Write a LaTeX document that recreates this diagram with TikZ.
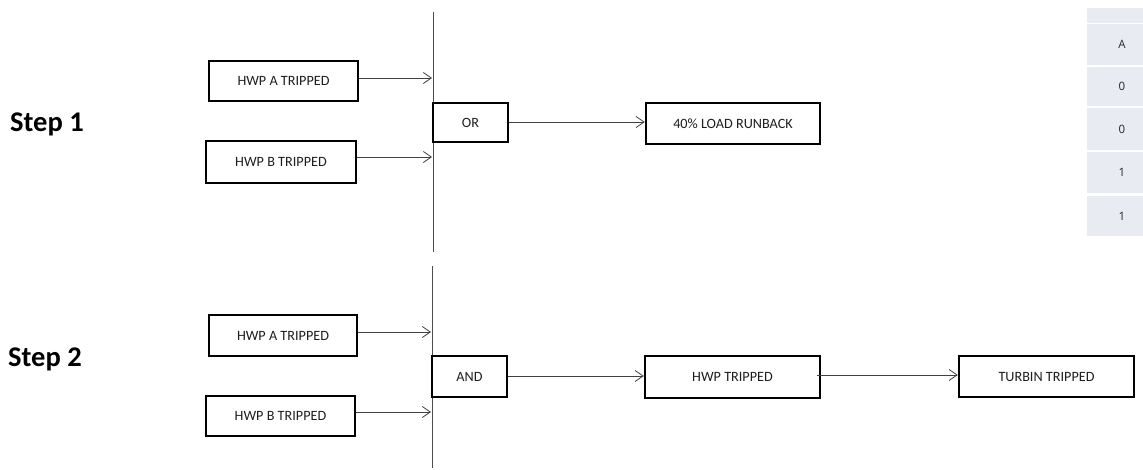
\documentclass[tikz,border=0pt]{standalone}
\usepackage{fontspec}
\setmainfont{Carlito}
\newfontfamily\tabfont{Open Sans}
\usetikzlibrary{arrows.meta}
\definecolor{cellbg}{RGB}{232,235,242}
\definecolor{txt}{RGB}{30,30,30}
\tikzset{
  flowbox/.style={draw=black, line width=2.5pt, fill=white, inner sep=0pt,
    font=\fontsize{14.2}{16}\selectfont, text=txt},
  arr/.style={draw=black!75, line width=0.8pt, -{Straight Barb[length=8pt,width=11pt,line width=0.8pt]}},
  busline/.style={draw=black!70, line width=1pt},
  steplabel/.style={anchor=base west, inner sep=0pt, font=\bfseries\fontsize{28.5}{30}\selectfont},
  cell/.style={fill=cellbg, draw=none, inner sep=0pt, minimum width=56pt, anchor=north west},
  celltext/.style={font=\tabfont\fontsize{11.5}{13}\selectfont, text=black!85}
}
\begin{document}
\begin{tikzpicture}[x=1pt,y=-1pt]
\useasboundingbox (0,0) rectangle (1143,470);

% Step labels
\node[steplabel] (s1) at (10,132) {Step 1};
\node[steplabel] (s2) at (8,366) {Step 2};

% ---- Step 1 ----
\coordinate (l1top) at (433,12);
\coordinate (l1bot) at (433,252);
\draw[busline] (l1top) -- (l1bot);
\node[flowbox, minimum width=149pt, minimum height=40pt] (a1) at (283.5,81) {HWP A TRIPPED};
\node[flowbox, minimum width=150pt, minimum height=42pt] (b1) at (281,162) {HWP B TRIPPED};
\node[flowbox, minimum width=75pt, minimum height=39pt] (or) at (470.5,122.5) {OR};
\node[flowbox, minimum width=174pt, minimum height=41pt] (lr) at (733,123.5) {40\% LOAD RUNBACK};
\coordinate (a1in) at (432,78);
\coordinate (b1in) at (432,157);
\draw[arr] ([yshift=3pt]a1.east) -- (a1in);
\draw[arr] ([yshift=5pt]b1.east) -- (b1in);
\draw[arr] ([yshift=0.5pt]or.east) -- ([yshift=1.5pt]lr.west);

% ---- Step 2 ----
\coordinate (l2top) at (432,266);
\coordinate (l2bot) at (432,468);
\draw[busline] (l2top) -- (l2bot);
\node[flowbox, minimum width=148pt, minimum height=41pt] (a2) at (283,335.5) {HWP A TRIPPED};
\node[flowbox, minimum width=149pt, minimum height=40pt] (b2) at (280.5,416) {HWP B TRIPPED};
\node[flowbox, minimum width=75pt, minimum height=41pt] (and) at (469.5,376.5) {AND};
\node[flowbox, minimum width=175pt, minimum height=42pt] (ht) at (732.5,377) {HWP TRIPPED};
\node[flowbox, minimum width=175pt, minimum height=41pt] (tt) at (1046.5,376.5) {TURBIN TRIPPED};
\coordinate (a2in) at (431,332);
\coordinate (b2in) at (431,412);
\draw[arr] ([yshift=3.5pt]a2.east) -- (a2in);
\draw[arr] ([yshift=4pt]b2.east) -- (b2in);
\draw[arr] ([yshift=0.5pt]and.east) -- ([yshift=1pt]ht.west);
\draw[arr] ([xshift=-4pt,yshift=2pt]ht.east) -- ([yshift=1.5pt]tt.west);

% ---- Table ----
\node[cell, minimum height=15pt] (c0) at (1087,8) {};
\node[cell, minimum height=41pt] (c1) at (1087,24) {};
\node[cell, minimum height=39pt] (c2) at (1087,67) {};
\node[cell, minimum height=42pt] (c3) at (1087,108) {};
\node[cell, minimum height=41pt] (c4) at (1087,152) {};
\node[cell, minimum height=40pt] (c5) at (1087,196) {};
\node[celltext] (t1) at (1122,44.5) {A};
\node[celltext] (t2) at (1122,86.5) {0};
\node[celltext] (t3) at (1122,129) {0};
\node[celltext] (t4) at (1122,172.5) {1};
\node[celltext] (t5) at (1122,216) {1};
\end{tikzpicture}
\end{document}
